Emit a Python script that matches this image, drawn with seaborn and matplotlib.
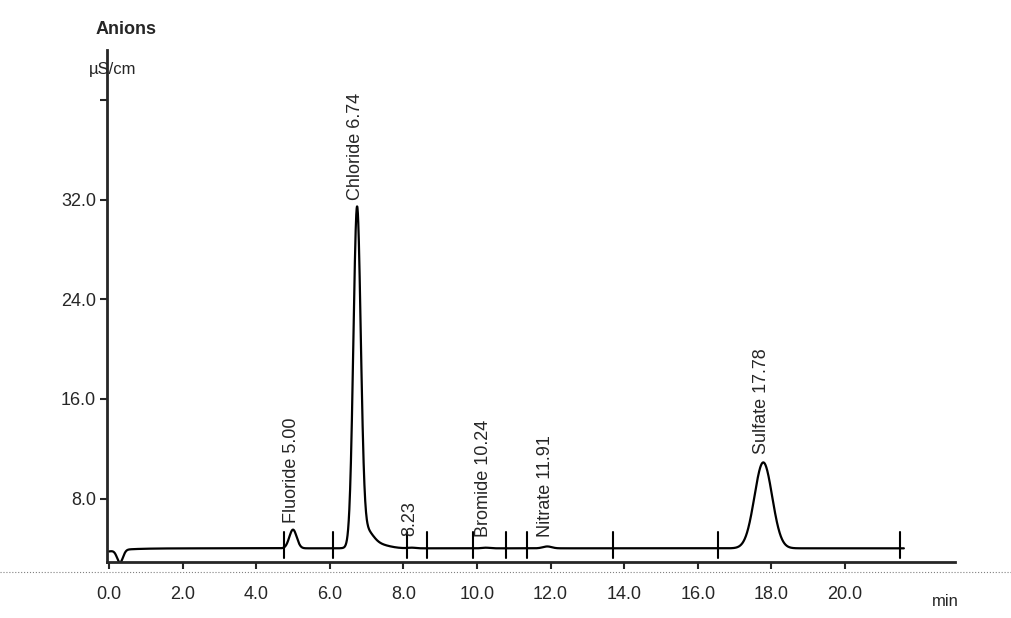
import numpy as np
import seaborn as sns
import matplotlib.pyplot as plt
from matplotlib.lines import Line2D

# -----------------------------
# Peaks
peak_names = ["Fluoride 5.00", "Chloride 6.74", "8.23", "Bromide 10.24", "Nitrate 11.91", "Sulfate 17.78"]
peak_times = [5.00, 6.74, 8.23, 10.24, 11.91, 17.78]
peak_heights = [1.5, 26.6, 0.05, 0.05, 0.15, 6.9]
peak_sigmas = [0.10, 0.10, 0.10, 0.10, 0.12, 0.24]
label_bottoms = [6.0, 32.0, 5.0, 4.9, 4.9, 11.6]
baseline = 4.0
dip_time, dip_depth = 0.3, 1.0
markers = [4.75, 6.1, 8.1, 8.65, 9.9, 10.8, 11.35, 13.7, 16.55, 21.5]
yticks = [8, 16, 24, 32, 40]
ytick_labels = ["8.0", "16.0", "24.0", "32.0", ""]
xticks = [0, 2, 4, 6, 8, 10, 12, 14, 16, 18, 20]

# -----------------------------
# Build trace from the peak table
t = np.linspace(0.0, 21.6, 4000)
signal = np.full_like(t, baseline)
for rt, h, s in zip(peak_times, peak_heights, peak_sigmas):
    signal += h * np.exp(-0.5 * ((t - rt) / s) ** 2)
# chloride tail
signal += 1.4 * np.exp(-0.5 * ((t - 6.95) / 0.2) ** 2)
signal += 0.3 * np.exp(-0.5 * ((t - 7.3) / 0.3) ** 2)
signal -= dip_depth * np.exp(-0.5 * ((t - dip_time) / 0.08) ** 2)
signal -= 0.25 * np.exp(-(t / 0.5))

sns.set_style("ticks")
plt.rcParams["font.family"] = ["Liberation Sans Narrow", "Liberation Sans", "DejaVu Sans"]

fig = plt.figure(figsize=(10.11, 6.18), dpi=100)
ax = fig.add_axes([0.106, 0.0906, 0.839, 0.828])
sns.lineplot(x=t, y=signal, ax=ax, color="black", linewidth=1.6)

for m in markers:
    ax.plot([m, m], [3.2, 5.3], color="black", linewidth=1.5)

for name, rt, yb in zip(peak_names, peak_times, label_bottoms):
    ax.text(rt - 0.05, yb, name, rotation=90, ha="center", va="bottom",
            fontsize=13, family=["Liberation Sans", "DejaVu Sans"])

ax.set_xlim(-0.05, 23)
ax.set_ylim(2.9, 44)
ax.set_xticks(xticks)
ax.set_xticklabels([f"{v:.1f}" for v in xticks], fontsize=13)
ax.set_yticks(yticks)
ax.set_yticklabels(ytick_labels, fontsize=13)
ax.tick_params(axis="both", length=5, width=1.5, direction="out", pad=12)
ax.tick_params(axis="y", pad=3)
for sp in ["top", "right"]:
    ax.spines[sp].set_visible(False)
ax.spines["left"].set_linewidth(2)
ax.spines["bottom"].set_linewidth(2)

fig.text(0.095, 0.945, "Anions", fontsize=13, fontweight="bold")
fig.text(0.088, 0.88, "µS/cm", fontsize=12)
fig.text(0.922, 0.02, "min", fontsize=12)
fig.lines.append(Line2D([0, 1], [0.075, 0.075], transform=fig.transFigure,
                        color="grey", linewidth=0.8, linestyle=":"))

fig.savefig("out.png", dpi=100)
